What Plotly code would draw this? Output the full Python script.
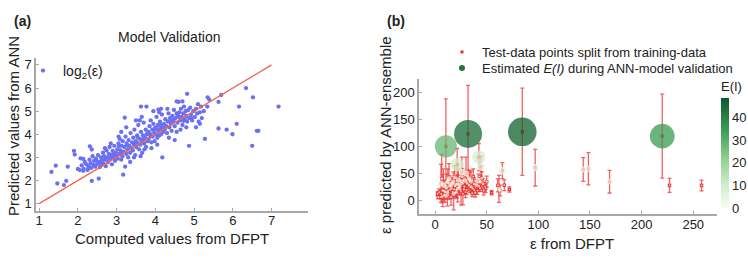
import plotly.graph_objects as go

# ---------------- Panel (a) data: log2(eps) computed vs predicted ----------------
comp_x = [
    1.32, 1.43, 1.47, 1.64, 1.70, 1.74, 1.90, 1.92, 2.00, 2.07, 2.14, 2.14, 2.27, 2.31, 2.36, 2.36, 2.54,
    2.05, 2.10, 2.15, 2.18,
    2.22, 2.25, 2.28, 2.30, 2.33, 2.35, 2.38, 2.40, 2.42, 2.45, 2.47, 2.50, 2.52, 2.55, 2.57, 2.60, 2.60,
    2.62, 2.65, 2.66, 2.68, 2.70, 2.72, 2.74, 2.76, 2.78, 2.80, 2.82, 2.84, 2.86, 2.88, 2.90, 2.92, 2.94, 2.96, 2.98, 3.00, 2.70, 2.85,
    3.02, 3.03, 3.05, 3.07, 3.08, 3.10, 3.12, 3.13, 3.15, 3.16, 3.18, 3.20, 3.22, 3.23, 3.25, 3.26, 3.28, 3.30, 3.31, 3.33, 3.35, 3.36, 3.38, 3.40, 3.12, 3.25, 3.05, 3.35, 3.21, 3.17,
    3.42, 3.43, 3.45, 3.46, 3.48, 3.50, 3.51, 3.53, 3.55, 3.56, 3.58, 3.60, 3.61, 3.63, 3.65, 3.66, 3.68, 3.70, 3.71, 3.73, 3.75, 3.76, 3.78, 3.80, 3.50, 3.65, 3.45, 3.62, 3.72, 3.60, 3.77, 3.63,
    3.82, 3.83, 3.85, 3.87, 3.88, 3.90, 3.92, 3.93, 3.95, 3.97, 3.98, 4.00, 4.02, 4.03, 4.05, 4.07, 4.08, 4.10, 4.12, 4.13, 4.15, 4.17, 4.18, 4.20, 3.90, 4.05, 4.18, 3.95, 4.10, 4.08, 4.15,
    4.22, 4.24, 4.26, 4.28, 4.30, 4.32, 4.34, 4.36, 4.38, 4.40, 4.42, 4.44, 4.46, 4.48, 4.50, 4.52, 4.55, 4.57, 4.60, 4.35, 4.55, 4.50, 4.31,
    4.62, 4.64, 4.66, 4.68, 4.70, 4.72, 4.74, 4.76, 4.78, 4.80, 4.82, 4.85, 4.87, 4.90, 4.92, 4.95, 4.98, 4.65, 4.80, 4.60, 4.82, 4.55, 4.70, 4.87,
    5.02, 5.05, 5.08, 5.10, 5.12, 5.15, 5.18, 5.20, 5.25, 5.05, 5.15, 5.28, 5.35, 5.39, 5.34,
    5.63, 5.70, 5.63, 5.84, 5.99, 6.10, 6.16, 6.34, 6.52, 6.62, 6.66, 6.50, 7.18,
    2.48, 2.58, 2.78, 2.92, 3.06, 3.14, 3.27, 3.44, 3.54, 3.68, 3.86, 3.96, 4.04, 4.14, 4.26, 4.38, 4.47, 4.58, 4.73, 4.93,
]
pred_y = [
    2.37, 2.64, 1.87, 1.80, 1.98, 2.60, 3.28, 3.12, 2.50, 2.96, 2.93, 2.42, 2.52, 3.48, 3.34, 1.98, 2.08,
    2.45, 2.65, 2.50, 2.80,
    2.70, 2.45, 2.62, 2.90, 2.75, 2.55, 3.05, 2.68, 2.85, 2.60, 2.95, 2.72, 3.10, 2.80, 2.58, 3.00, 2.66,
    2.88, 3.20, 2.74, 3.05, 2.90, 2.62, 3.30, 3.00, 2.80, 3.15, 3.45, 2.95, 3.10, 2.70, 3.28, 3.00, 3.50, 2.85, 3.20, 3.05, 3.40, 3.60,
    3.35, 2.95, 3.60, 3.15, 3.80, 3.30, 2.90, 3.50, 3.05, 3.70, 3.25, 3.45, 2.60, 3.90, 3.15, 3.60, 3.35, 3.00, 3.75, 3.50, 3.20, 4.05, 3.40, 3.65, 4.10, 4.30, 3.90, 2.80, 4.72, 2.25,
    3.30, 3.85, 3.55, 4.20, 3.10, 3.70, 3.45, 3.95, 3.60, 4.40, 3.35, 3.80, 3.55, 4.10, 3.70, 3.20, 3.95, 4.50, 3.60, 3.85, 4.20, 3.45, 4.00, 3.70, 4.60, 4.75, 3.00, 3.05, 3.35, 4.60, 5.20, 5.20,
    4.10, 3.80, 4.35, 3.95, 4.60, 3.65, 4.20, 3.90, 4.45, 4.05, 3.70, 4.30, 4.00, 4.75, 3.85, 4.40, 4.15, 3.95, 4.55, 4.25, 4.00, 4.85, 4.30, 4.10, 3.40, 3.55, 3.00, 5.00, 4.95, 5.07, 5.10,
    4.45, 4.20, 4.65, 4.35, 4.05, 4.55, 4.90, 4.30, 4.70, 4.45, 4.15, 4.80, 4.55, 5.05, 4.35, 4.70, 4.90, 4.50, 4.75, 3.85, 4.10, 3.75, 5.10,
    4.95, 4.60, 5.10, 4.75, 4.40, 4.90, 5.20, 4.65, 5.00, 4.80, 4.55, 5.05, 4.70, 5.15, 4.85, 4.60, 5.00, 4.20, 4.30, 5.40, 5.75, 5.42, 5.42, 3.50,
    4.75, 5.10, 4.90, 5.30, 4.55, 4.95, 5.20, 4.70, 5.00, 4.30, 4.45, 3.80, 5.60, 5.50, 5.20,
    5.40, 5.70, 4.25, 4.20, 4.00, 4.45, 5.20, 6.00, 5.60, 4.15, 4.15, 3.50, 5.20,
    2.88, 2.76, 2.98, 3.14, 3.48, 3.22, 3.52, 3.62, 3.88, 3.78, 4.02, 4.18, 4.22, 4.40, 4.28, 4.58, 4.62, 4.82, 4.58, 4.70,
]
diag_line = [1, 7]
a_ticks = [1, 2, 3, 4, 5, 6, 7]

# ---------------- Panel (b) data: eps DFPT vs ANN-ensemble ----------------
eps_dfpt = [
    10.5, 32.0, 84.5, 220.0, 21.5, 42.5, 97.0, 143.5, 148.5, 169.0, 227.0, 258.0,
    65.2, 44.5, 3.2, 5.5, 7.1, 9.0, 10.6, 12.9, 8.1, 10.3, 14.5, 16.1, 17.7, 19.4,
    21.0, 22.6, 24.2, 25.2, 26.4, 28.4, 29.0, 30.6, 31.6, 32.9, 34.8, 37.1, 38.0,
    40.3, 41.9, 43.6, 45.2, 48.4, 50.0, 54.8, 60.7, 61.9, 67.1, 72.0, 5.8, 4.0,
    6.5, 12.0, 15.0, 18.0, 20.0, 23.5, 27.0, 13.5, 16.5, 19.0, 11.5, 26.0, 36.0,
    39.0, 46.5, 49.0, 15.5, 63.0, 7.5, 2.5, 35.0, 30.0, 47.0, 20.5, 24.5, 33.5,
    8.8, 11.2, 14.0, 17.0, 18.6, 21.8, 23.0, 25.8, 28.0, 31.0, 34.0, 37.8, 42.6,
    6.0, 9.6, 13.0, 15.8, 19.8, 22.0, 26.8, 29.6, 33.0, 36.5, 41.0, 44.0, 12.4, 17.4,
]
eps_pred = [
    100.0, 123.0, 127.0, 119.0, 66.0, 80.0, 60.5, 57.0, 58.5, 34.5, 27.5, 27.5,
    55.0, 62.0, 5.6, 5.6, 7.1, 10.3, 8.0, 9.2, 28.4, 25.4, 30.2, 22.2, 34.6, 26.5,
    19.0, 37.7, 28.4, 16.0, 44.0, 25.4, 36.5, 19.0, 44.0, 28.4, 34.6, 44.0, 19.0,
    28.4, 36.5, 22.2, 40.9, 25.4, 34.6, 14.0, 27.5, 21.0, 28.0, 20.0, 31.5, 15.0,
    40.0, 14.0, 20.0, 12.0, 30.0, 24.0, 12.0, 40.0, 32.0, 42.0, 33.0, 52.0, 13.0,
    14.0, 30.0, 22.0, 6.0, 18.0, 18.0, 12.0, 25.0, 50.0, 18.0, 15.0, 20.0, 38.0,
    18.0, 22.0, 26.0, 16.0, 20.0, 30.0, 24.0, 35.0, 20.0, 32.0, 24.0, 30.0, 26.0,
    12.0, 16.0, 18.0, 27.0, 14.0, 22.0, 31.0, 15.0, 40.0, 22.0, 18.0, 34.0, 36.0, 30.0,
]
eps_err = [
    88.0, 90.0, 81.0, 78.0, 30.0, 25.0, 34.0, 22.0, 30.0, 21.0, 13.0, 10.0,
    15.0, 20.0, 3.0, 3.0, 5.0, 8.0, 6.0, 7.0, 30.0, 12.0, 15.0, 10.0, 18.0, 12.0,
    14.0, 20.0, 12.0, 25.0, 15.0, 10.0, 18.0, 8.0, 12.0, 10.0, 20.0, 14.0, 8.0,
    10.0, 12.0, 6.0, 12.0, 8.0, 10.0, 4.0, 12.0, 25.0, 10.0, 5.0, 35.0, 6.0,
    45.0, 25.0, 18.0, 30.0, 10.0, 14.0, 20.0, 28.0, 10.0, 22.0, 16.0, 28.0, 6.0,
    8.0, 10.0, 8.0, 15.0, 10.0, 30.0, 4.0, 8.0, 30.0, 8.0, 12.0, 10.0, 14.0,
    12.0, 10.0, 15.0, 9.0, 12.0, 16.0, 10.0, 18.0, 9.0, 14.0, 10.0, 12.0, 9.0,
    8.0, 20.0, 10.0, 14.0, 8.0, 25.0, 12.0, 10.0, 16.0, 9.0, 7.0, 12.0, 22.0, 10.0,
]
E_I = [
    28.0, 45.0, 47.0, 35.0, 10.0, 10.0, 3.0, 2.0, 2.0, 2.0, 0.2, 0.2,
    3.0, 3.5, 0.3, 0.2, 0.5, 0.4, 0.8, 0.3, 1.5, 1.0, 0.8, 0.3, 1.0, 0.4,
    0.3, 1.5, 0.9, 0.2, 0.6, 0.3, 1.2, 0.2, 0.5, 0.4, 1.0, 0.3, 0.2,
    0.8, 1.5, 0.3, 0.5, 0.2, 0.4, 0.1, 0.3, 1.0, 0.2, 0.1, 1.5, 0.2,
    0.5, 0.8, 0.3, 1.0, 0.4, 0.6, 0.2, 1.5, 0.5, 0.9, 1.0, 2.0, 0.2,
    0.3, 0.5, 0.2, 0.3, 0.8, 0.4, 0.2, 0.5, 2.0, 0.3, 0.6, 0.4, 0.8,
    0.2, 0.4, 0.6, 0.2, 0.3, 0.8, 0.2, 1.0, 0.3, 0.5, 0.2, 0.4, 0.3,
    0.2, 0.5, 0.3, 0.6, 0.2, 0.8, 0.4, 0.2, 1.0, 0.3, 0.2, 0.6, 0.8, 0.4,
]
b_xticks = [0, 50, 100, 150, 200, 250]
b_yticks = [0, 50, 100, 150, 200]
cbar_ticks = [0, 10, 20, 30, 40]

FONT = "Liberation Sans, Arial, sans-serif"
TXT = "#222222"
AX = "#a8a8a8"
W, H = 748, 272

greens = [[0.0, "#f7fcf5"], [0.2, "#d3eecd"], [0.45, "#8fd08f"],
          [0.7, "#3e9f58"], [1.0, "#0b5a2a"]]

fig = go.Figure()

# Panel (a)
fig.add_trace(go.Scatter(
    x=comp_x, y=pred_y, mode="markers", name="log<sub>2</sub>(ε)",
    marker=dict(color="#6a70f2", size=4.3), xaxis="x", yaxis="y",
    legend="legend", showlegend=True))
fig.add_trace(go.Scatter(
    x=diag_line, y=diag_line, mode="lines", line=dict(color="#f26450", width=1.3),
    xaxis="x", yaxis="y", showlegend=False, hoverinfo="skip"))

# Panel (b): error bars + red points
fig.add_trace(go.Scatter(
    x=eps_dfpt, y=eps_pred, mode="markers", xaxis="x2", yaxis="y2",
    marker=dict(color="#e8302a", size=3.5, symbol="square"),
    error_y=dict(type="data", array=eps_err, visible=True,
                 color="rgba(236,60,60,0.8)", thickness=1.3, width=2),
    showlegend=False))
# bubbles for E(I)
fig.add_trace(go.Scatter(
    x=eps_dfpt, y=eps_pred, mode="markers", xaxis="x2", yaxis="y2",
    marker=dict(size=E_I, sizemode="area", sizeref=0.115, sizemin=0,
                color=E_I, colorscale=greens, cmin=0, cmax=48.5, opacity=0.75,
                line=dict(width=0),
                showscale=True,
                colorbar=dict(x=721 / W, xanchor="left", thickness=8,
                              len=(208 - 78) / H, lenmode="fraction",
                              y=(H - 208) / H, yanchor="bottom",
                              outlinewidth=0, ticks="", tickvals=cbar_ticks,
                              tickfont=dict(family=FONT, size=13, color=TXT),
                              title=dict(text="E(I)", side="top",
                                         font=dict(family=FONT, size=13, color=TXT)),
                              xpad=0, ypad=0)),
    showlegend=False))
# legend entries for panel (b)
fig.add_trace(go.Scatter(
    x=[None], y=[None], mode="markers", xaxis="x2", yaxis="y2",
    name="Test-data points split from training-data",
    marker=dict(color="#e8302a", size=3, symbol="square"), legend="legend2"))
fig.add_trace(go.Scatter(
    x=[None], y=[None], mode="markers", xaxis="x2", yaxis="y2",
    name="Estimated <i>E(I)</i> during ANN-model validation",
    marker=dict(color="#1f7a3a", size=6), legend="legend3"))

axis_common = dict(showgrid=False, zeroline=False, showline=True, linecolor=AX,
                   linewidth=1.5, ticks="inside", ticklen=3, tickcolor=AX,
                   tickfont=dict(family=FONT, size=13, color=TXT))

legend_font = dict(family=FONT, size=13, color=TXT)


def ann(text, x, y, size=14, angle=0):
    return dict(text=text, x=x / W, y=1 - y / H, xref="paper", yref="paper",
                xanchor="center", yanchor="middle", textangle=angle,
                showarrow=False, font=dict(family=FONT, size=size, color=TXT))


fig.update_layout(
    width=W, height=H, margin=dict(l=0, r=0, t=0, b=0),
    paper_bgcolor="white", plot_bgcolor="white",
    xaxis=dict(domain=[36 / W, 308 / W], range=[0.92, 7.94], tickvals=a_ticks,
               anchor="y", ticklabelstandoff=-3, **axis_common),
    yaxis=dict(domain=[(H - 211) / H, (H - 58) / H], range=[0.68, 7.3],
               tickvals=a_ticks, anchor="x", **axis_common),
    xaxis2=dict(domain=[419 / W, 717 / W], range=[-15.5, 273], tickvals=b_xticks,
                anchor="y2", ticklabelstandoff=-2, **axis_common),
    yaxis2=dict(domain=[(H - 214) / H, (H - 79) / H], range=[-25.5, 225],
                tickvals=b_yticks, anchor="x2", **axis_common),
    legend=dict(x=(65 - 42) / W, y=1 - 71 / H, xanchor="left", yanchor="middle",
                bgcolor="rgba(0,0,0,0)", font=dict(family=FONT, size=14, color=TXT)),
    legend2=dict(x=(484 - 42) / W, y=1 - 52 / H, xanchor="left", yanchor="middle",
                 bgcolor="rgba(0,0,0,0)", font=legend_font),
    legend3=dict(x=(484 - 42) / W, y=1 - 68 / H, xanchor="left", yanchor="middle",
                 bgcolor="rgba(0,0,0,0)", font=legend_font),
    annotations=[
        ann("<b>(a)</b>", 22, 21),
        ann("<b>(b)</b>", 396, 21),
        ann("Model Validation", 169, 37),
        ann("Predicted values from ANN", 13, 126, size=15, angle=-90),
        ann("Computed values from DFPT", 172, 238, size=15),
        ann("ε predicted by ANN-ensemble", 385, 135, size=15, angle=-90),
        ann("ε from DFPT", 572, 243, size=15),
    ],
)

fig.write_html(
    "out.html",
    config={"displayModeBar": False},
    post_script="document.body.style.margin='0px';document.body.style.overflow='hidden';",
)
